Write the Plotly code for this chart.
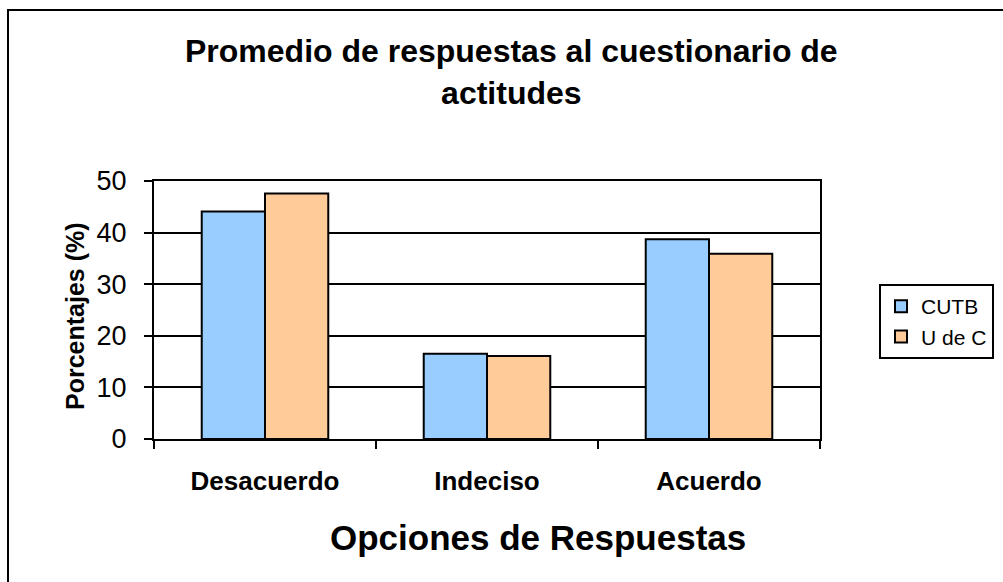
import plotly.graph_objects as go

# Response categories and average percentages per institution
categories = ["Desacuerdo", "Indeciso", "Acuerdo"]
cutb_values = [44.1, 16.5, 38.7]
udec_values = [47.6, 16.1, 35.9]
y_ticks = [0, 10, 20, 30, 40, 50]

FONT = "Liberation Sans, Arial, sans-serif"
W, H = 1003, 582
L, R, T, B = 154, 183, 181, 143
plot_w = W - L - R
plot_h = H - T - B


def px(x):
    return (x - L) / plot_w


def py(y):
    return (H - B - y) / plot_h


fig = go.Figure()
fig.add_trace(go.Bar(
    name="CUTB", x=categories, y=cutb_values,
    marker=dict(color="#99CCFF", line=dict(color="black", width=2)),
))
fig.add_trace(go.Bar(
    name="U de C", x=categories, y=udec_values,
    marker=dict(color="#FFCC99", line=dict(color="black", width=2)),
))

fig.update_layout(
    width=W, height=H,
    margin=dict(l=L, r=R, t=T, b=B, autoexpand=False),
    paper_bgcolor="white", plot_bgcolor="white",
    barmode="group", bargap=0.43, bargroupgap=0,
    font=dict(family=FONT, color="black"),
    showlegend=True,
    legend=dict(
        xref="container", yref="container",
        x=879 / W, y=1 - 284 / H, xanchor="left", yanchor="top",
        bordercolor="black", borderwidth=2, bgcolor="white",
        font=dict(size=21, family=FONT), itemwidth=30,
        tracegroupgap=4,
    ),
    xaxis=dict(
        type="category",
        showline=True, linecolor="black", linewidth=2, mirror=True,
        ticks="outside", tickson="boundaries", ticklen=8,
        tickcolor="black", tickwidth=2,
        tickfont=dict(size=26, family=FONT, weight="bold"),
        ticklabelstandoff=18,
        showgrid=False,
    ),
    yaxis=dict(
        range=[0, 50], tickvals=y_ticks,
        showline=True, linecolor="black", linewidth=2, mirror=True,
        ticks="outside", ticklen=8, tickcolor="black", tickwidth=2,
        tickfont=dict(size=27, family=FONT),
        ticklabelstandoff=12,
        showgrid=True, gridcolor="black", gridwidth=2,
        zeroline=False,
    ),
    annotations=[
        dict(text="<b>Promedio de respuestas al cuestionario de<br>actitudes</b>",
             x=px(511), y=py(72), xref="paper", yref="paper",
             xanchor="center", yanchor="middle", showarrow=False,
             font=dict(size=32, family=FONT)),
        dict(text="<b>Opciones de Respuestas</b>",
             x=px(538), y=py(537), xref="paper", yref="paper",
             xanchor="center", yanchor="middle", showarrow=False,
             font=dict(size=35, family=FONT)),
        dict(text="<b>Porcentajes (%)</b>",
             x=px(75), y=py(316), xref="paper", yref="paper",
             xanchor="center", yanchor="middle", showarrow=False,
             textangle=-90, font=dict(size=25, family=FONT)),
    ],
    shapes=[
        dict(type="rect", xref="paper", yref="paper",
             x0=px(8), y0=py(700), x1=px(1200), y1=py(10),
             line=dict(color="black", width=2), layer="below"),
    ],
)

fig.write_html("out.html")
